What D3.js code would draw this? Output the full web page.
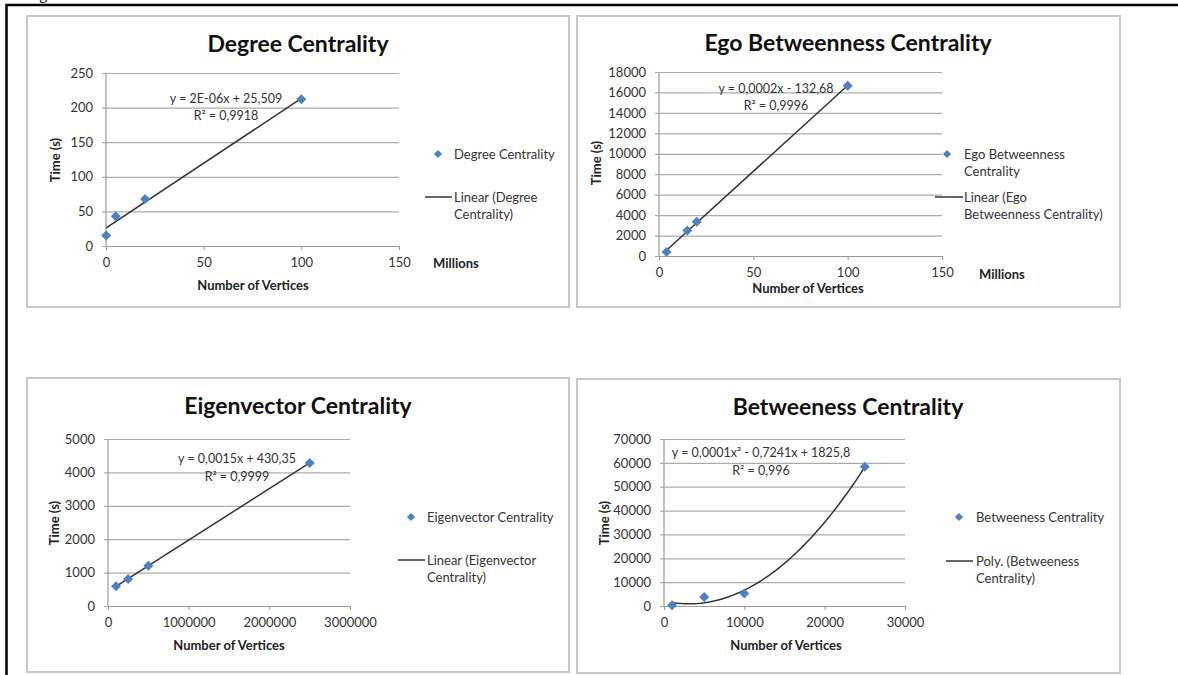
<!DOCTYPE html>
<html>
<head>
<meta charset="utf-8">
<script src="https://cdn.jsdelivr.net/npm/d3@7"></script>
<style>
  body { margin: 0; background: #fff; }
  svg { display: block; }
  text { font-family: Lato, "Open Sans", sans-serif; }
</style>
</head>
<body>
<div id="chart"></div>
<script>
// ---- data ----
// degree centrality (x in millions of vertices)
const degreeVertices = [0.1, 5, 20, 100];
const degreeTime = [15, 43, 68, 212];
const degreeTicksX = [0, 50, 100, 150];
const degreeTicksY = [0, 50, 100, 150, 200, 250];

// ego betweenness centrality (x in millions of vertices)
const egoVertices = [4, 15, 20, 100];
const egoTime = [400, 2500, 3350, 16650];
const egoTicksX = [0, 50, 100, 150];
const egoTicksY = [0, 2000, 4000, 6000, 8000, 10000, 12000, 14000, 16000, 18000];

// eigenvector centrality
const eigenVertices = [100000, 250000, 500000, 2500000];
const eigenTime = [590, 810, 1205, 4285];
const eigenTicksX = [0, 1000000, 2000000, 3000000];
const eigenTicksY = [0, 1000, 2000, 3000, 4000, 5000];

// betweeness centrality
const betweenVertices = [1000, 5000, 10000, 25000];
const betweenTime = [300, 3800, 5200, 58400];
const betweenTicksX = [0, 10000, 20000, 30000];
const betweenTicksY = [0, 10000, 20000, 30000, 40000, 50000, 60000, 70000];

// ---- fits ----
function linearFit(xs, ys) {
  const mx = d3.mean(xs), my = d3.mean(ys);
  let sxy = 0, sxx = 0;
  xs.forEach((x, i) => { sxy += (x - mx) * (ys[i] - my); sxx += (x - mx) * (x - mx); });
  const b = sxy / sxx, a = my - b * mx;
  return x => a + b * x;
}

function quadFit(xs, ys) {
  // scale x to keep the normal equations well conditioned
  const s = 1000;
  const t = xs.map(x => x / s);
  const S = k => d3.sum(t, v => Math.pow(v, k));
  const T = k => d3.sum(t, (v, i) => Math.pow(v, k) * ys[i]);
  const m = [
    [S(4), S(3), S(2), T(2)],
    [S(3), S(2), S(1), T(1)],
    [S(2), S(1), t.length, T(0)]
  ];
  // gaussian elimination
  for (let i = 0; i < 3; i++) {
    for (let j = i + 1; j < 3; j++) {
      const f = m[j][i] / m[i][i];
      for (let k = i; k < 4; k++) m[j][k] -= f * m[i][k];
    }
  }
  const c = [0, 0, 0];
  for (let i = 2; i >= 0; i--) {
    let v = m[i][3];
    for (let k = i + 1; k < 3; k++) v -= m[i][k] * c[k];
    c[i] = v / m[i][i];
  }
  return x => c[0] * (x / s) * (x / s) + c[1] * (x / s) + c[2];
}

// ---- panel layout ----
const panels = [
  {
    title: 'Degree Centrality', xs: degreeVertices, ys: degreeTime,
    ticksX: degreeTicksX, ticksY: degreeTicksY, fit: 'linear',
    box: [27, 16, 542, 291], titlePos: [298, 52],
    plot: {left: 106, top: 73, w: 293, h: 173},
    eq: ['y = 2E-06x + 25,509', 'R² = 0,9918'], eqPos: [226, 99, 116],
    xTitle: [253, 285], yTitle: [55, 160], unit: [433, 263],
    legend: {mx: 438, my: 154, l1: 425, l2: 452, ly: 197, tx: 454,
      series: ['Degree Centrality'], trend: ['Linear (Degree', 'Centrality)']}
  },
  {
    title: 'Ego Betweenness Centrality', xs: egoVertices, ys: egoTime,
    ticksX: egoTicksX, ticksY: egoTicksY, fit: 'linear',
    box: [577, 16, 543, 291], titlePos: [848, 51],
    plot: {left: 659, top: 72, w: 283, h: 184},
    eq: ['y = 0,0002x - 132,68', 'R² = 0,9996'], eqPos: [776, 89, 106],
    xTitle: [808, 288], yTitle: [596, 163], unit: [979, 274],
    legend: {mx: 947, my: 154, l1: 935, l2: 963, ly: 197, tx: 964,
      series: ['Ego Betweenness', 'Centrality'], trend: ['Linear (Ego', 'Betweenness Centrality)']}
  },
  {
    title: 'Eigenvector Centrality', xs: eigenVertices, ys: eigenTime,
    ticksX: eigenTicksX, ticksY: eigenTicksY, fit: 'linear',
    box: [27, 378, 542, 294], titlePos: [298, 414],
    plot: {left: 108, top: 439, w: 242, h: 167},
    eq: ['y = 0,0015x + 430,35', 'R² = 0,9999'], eqPos: [237, 459, 477],
    xTitle: [229, 645], yTitle: [54, 523], unit: null,
    legend: {mx: 411, my: 517, l1: 398, l2: 425, ly: 560, tx: 427,
      series: ['Eigenvector Centrality'], trend: ['Linear (Eigenvector', 'Centrality)']}
  },
  {
    title: 'Betweeness Centrality', xs: betweenVertices, ys: betweenTime,
    ticksX: betweenTicksX, ticksY: betweenTicksY, fit: 'poly',
    box: [577, 379, 543, 294], titlePos: [848, 415],
    plot: {left: 664, top: 439, w: 241, h: 167},
    eq: ['y = 0,0001x² - 0,7241x + 1825,8', 'R² = 0,996'], eqPos: [761, 453, 471],
    xTitle: [786, 645], yTitle: [604, 523], unit: null,
    legend: {mx: 959, my: 517, l1: 946, l2: 973, ly: 561, tx: 976,
      series: ['Betweeness Centrality'], trend: ['Poly. (Betweeness', 'Centrality)']}
  }
];

const blue = '#4f81bd';
const textGrey = '#333';
const gridGrey = '#ababab';
const lineHeight = 17;
const fontSize = '13px';

const svg = d3.select('#chart').append('svg')
    .attr('width', 1178)
    .attr('height', 675);

// caption cut off at the top of the page
svg.append('text')
    .attr('x', 26)
    .attr('y', -1)
    .style('font-family', '"Liberation Serif", serif')
    .style('font-size', '16px')
    .text('Figure');

// outer frame (top and left only are visible)
svg.append('path')
    .attr('d', 'M1178,5H6.5V675')
    .attr('fill', 'none')
    .attr('stroke', '#000')
    .attr('stroke-width', 2.5);

panels.forEach(drawPanel);

function drawPanel(p) {
  const g = svg.append('g');
  const pl = p.plot;

  // chart box
  g.append('rect')
      .attr('x', p.box[0]).attr('y', p.box[1])
      .attr('width', p.box[2]).attr('height', p.box[3])
      .attr('fill', '#fff')
      .attr('stroke', '#c8c8c8')
      .attr('stroke-width', 2);

  // title
  g.append('text')
      .attr('x', p.titlePos[0]).attr('y', p.titlePos[1])
      .attr('text-anchor', 'middle')
      .style('font-size', '23px')
      .style('font-weight', 'bold')
      .attr('fill', '#111')
      .text(p.title);

  const x = d3.scaleLinear()
      .domain([p.ticksX[0], p.ticksX[p.ticksX.length - 1]])
      .range([pl.left, pl.left + pl.w]);
  const y = d3.scaleLinear()
      .domain([p.ticksY[0], p.ticksY[p.ticksY.length - 1]])
      .range([pl.top + pl.h, pl.top]);

  // gridlines + y tick labels
  const yAxisG = g.append('g')
      .attr('transform', `translate(${pl.left - 4},0)`)
      .call(d3.axisLeft(y)
          .tickValues(p.ticksY)
          .tickFormat(d3.format('d'))
          .tickSizeInner(-(pl.w + 4))
          .tickSizeOuter(0)
          .tickPadding(9));
  yAxisG.select('.domain').remove();
  yAxisG.selectAll('line').attr('stroke', gridGrey).attr('stroke-width', 1.2);
  yAxisG.selectAll('text')
      .attr('fill', textGrey)
      .style('font-family', 'Lato, sans-serif')
      .style('font-size', fontSize);

  // y axis line
  g.append('line')
      .attr('x1', pl.left).attr('x2', pl.left)
      .attr('y1', y.range()[0]).attr('y2', y.range()[1])
      .attr('stroke', '#9a9a9a')
      .attr('stroke-width', 1.2);

  // x axis
  const xAxisG = g.append('g')
      .attr('transform', `translate(0,${y(0)})`)
      .call(d3.axisBottom(x)
          .tickValues(p.ticksX)
          .tickFormat(d3.format('d'))
          .tickSizeInner(4)
          .tickSizeOuter(0)
          .tickPadding(8));
  xAxisG.select('.domain').attr('stroke', '#9a9a9a').attr('stroke-width', 1.2);
  xAxisG.selectAll('line').attr('stroke', '#9a9a9a');
  xAxisG.selectAll('text')
      .attr('fill', textGrey)
      .style('font-family', 'Lato, sans-serif')
      .style('font-size', fontSize);

  // trend line
  const f = p.fit === 'poly' ? quadFit(p.xs, p.ys) : linearFit(p.xs, p.ys);
  const [x0, x1] = d3.extent(p.xs);
  const fitXs = p.fit === 'poly' ? d3.range(0, 61).map(i => x0 + (x1 - x0) * i / 60) : [x0, x1];
  g.append('path')
      .datum(fitXs)
      .attr('fill', 'none')
      .attr('stroke', '#333')
      .attr('stroke-width', 1.5)
      .attr('d', d3.line().x(d => x(d)).y(d => y(f(d))));

  // markers
  const diamond = d3.symbol(d3.symbolSquare, 50);
  g.selectAll('.pt')
      .data(p.xs.map((v, i) => [v, p.ys[i]]))
      .join('path')
      .attr('class', 'pt')
      .attr('d', diamond)
      .attr('fill', blue)
      .attr('transform', d => `translate(${x(d[0])},${y(d[1])}) rotate(45)`);

  // equation label
  p.eq.forEach((t, i) => {
    g.append('text')
        .attr('x', p.eqPos[0]).attr('y', p.eqPos[1 + i])
        .attr('dy', '0.35em')
        .attr('text-anchor', 'middle')
        .attr('fill', textGrey)
        .style('font-size', '12.5px')
        .text(t);
  });

  // axis titles
  g.append('text')
      .attr('x', p.xTitle[0]).attr('y', p.xTitle[1])
      .attr('dy', '0.35em')
      .attr('text-anchor', 'middle')
      .attr('fill', '#222')
      .style('font-size', fontSize)
      .style('font-weight', 'bold')
      .text('Number of Vertices');
  g.append('text')
      .attr('transform', `translate(${p.yTitle[0]},${p.yTitle[1]}) rotate(-90)`)
      .attr('dy', '0.35em')
      .attr('text-anchor', 'middle')
      .attr('fill', '#222')
      .style('font-size', fontSize)
      .style('font-weight', 'bold')
      .text('Time (s)');
  if (p.unit) {
    g.append('text')
        .attr('x', p.unit[0]).attr('y', p.unit[1])
        .attr('dy', '0.35em')
        .attr('fill', '#222')
        .style('font-size', fontSize)
        .style('font-weight', 'bold')
        .text('Millions');
  }

  // legend
  const lg = p.legend;
  g.append('path')
      .attr('d', d3.symbol(d3.symbolSquare, 34))
      .attr('fill', blue)
      .attr('transform', `translate(${lg.mx},${lg.my}) rotate(45)`);
  lg.series.forEach((t, i) => {
    g.append('text')
        .attr('x', lg.tx).attr('y', lg.my + i * lineHeight)
        .attr('dy', '0.35em')
        .attr('fill', textGrey)
        .style('font-size', fontSize)
        .text(t);
  });
  g.append('line')
      .attr('x1', lg.l1).attr('x2', lg.l2)
      .attr('y1', lg.ly).attr('y2', lg.ly)
      .attr('stroke', '#333')
      .attr('stroke-width', 1.5);
  lg.trend.forEach((t, i) => {
    g.append('text')
        .attr('x', lg.tx).attr('y', lg.ly + i * lineHeight)
        .attr('dy', '0.35em')
        .attr('fill', textGrey)
        .style('font-size', fontSize)
        .text(t);
  });
}
</script>
</body>
</html>
